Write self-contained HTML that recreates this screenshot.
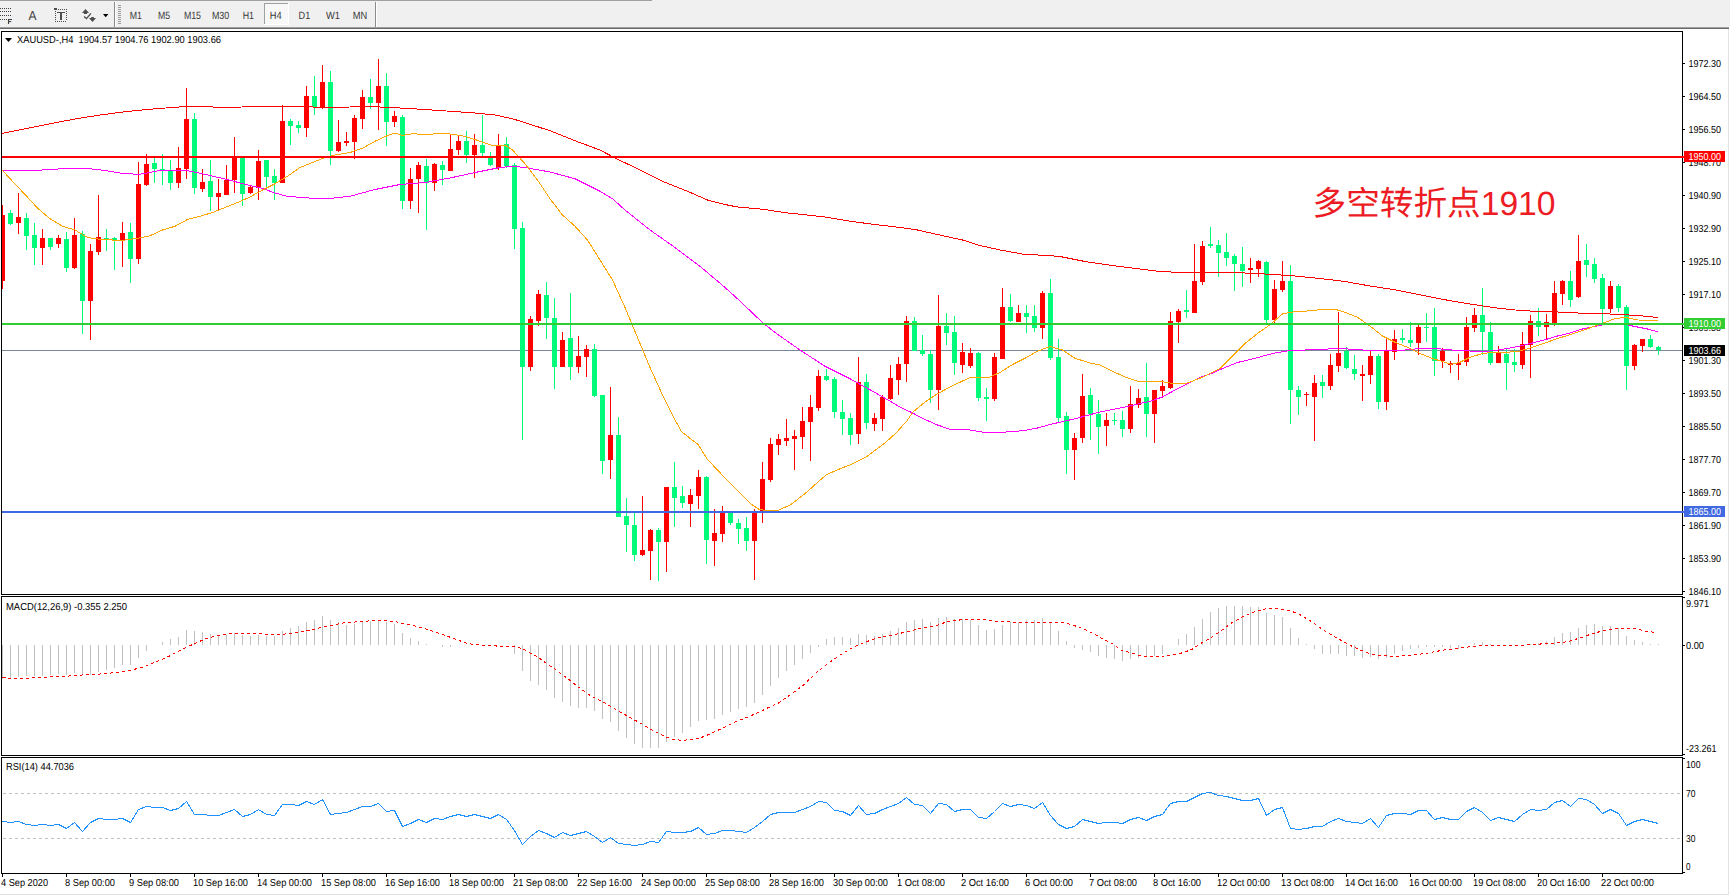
<!DOCTYPE html>
<html lang="zh"><head><meta charset="utf-8"><title>XAUUSD H4</title>
<style>html,body{margin:0;padding:0;background:#fff;overflow:hidden}svg{display:block}text{font-family:"Liberation Sans","Noto Sans CJK SC",sans-serif;white-space:pre;text-rendering:geometricPrecision}</style>
</head><body>
<svg width="1730" height="896" viewBox="0 0 1730 896" shape-rendering="crispEdges">
<rect x="0" y="0" width="1730" height="896" fill="#fff" />
<g id="toolbar">
<rect x="0" y="0" width="1730" height="27" fill="#f0f0f0" />
<rect x="0" y="0" width="652" height="1" fill="#a0a0a0" />
<rect x="0" y="27" width="1729" height="1" fill="#a0a0a0" />
<rect x="0" y="28" width="1729" height="1" fill="#696969" />
<rect x="1728" y="29" width="1" height="866" fill="#e3e3e3" />
<rect x="0" y="894" width="1729" height="1" fill="#e3e3e3" />
<rect x="0" y="8" width="1" height="1" fill="#404040" />
<rect x="2" y="8" width="1" height="1" fill="#404040" />
<rect x="4" y="8" width="1" height="1" fill="#404040" />
<rect x="6" y="8" width="1" height="1" fill="#404040" />
<rect x="8" y="8" width="1" height="1" fill="#404040" />
<rect x="10" y="8" width="1" height="1" fill="#404040" />
<rect x="0" y="11" width="1" height="1" fill="#404040" />
<rect x="2" y="11" width="1" height="1" fill="#404040" />
<rect x="4" y="11" width="1" height="1" fill="#404040" />
<rect x="6" y="11" width="1" height="1" fill="#404040" />
<rect x="8" y="11" width="1" height="1" fill="#404040" />
<rect x="10" y="11" width="1" height="1" fill="#404040" />
<rect x="0" y="15" width="1" height="1" fill="#404040" />
<rect x="2" y="15" width="1" height="1" fill="#404040" />
<rect x="4" y="15" width="1" height="1" fill="#404040" />
<rect x="6" y="15" width="1" height="1" fill="#404040" />
<rect x="8" y="15" width="1" height="1" fill="#404040" />
<rect x="10" y="15" width="1" height="1" fill="#404040" />
<rect x="0" y="19" width="1" height="1" fill="#404040" />
<rect x="2" y="19" width="1" height="1" fill="#404040" />
<rect x="4" y="19" width="1" height="1" fill="#404040" />
<rect x="6" y="19" width="1" height="1" fill="#404040" />
<rect x="8" y="19" width="4" height="1" fill="#404040" />
<rect x="8" y="19" width="1" height="5" fill="#404040" />
<rect x="8" y="21" width="3" height="1" fill="#404040" />
<text x="7.6" y="24" font-size="7.2" fill="#404040" font-weight="bold" opacity="0.35">F</text>
<text x="28.6" y="20" font-size="13" fill="#404040" textLength="8" lengthAdjust="spacingAndGlyphs" >A</text>
<rect x="58" y="9" width="1" height="1" fill="#4d4d4d" />
<rect x="60" y="9" width="1" height="1" fill="#4d4d4d" />
<rect x="62" y="9" width="1" height="1" fill="#4d4d4d" />
<rect x="64" y="9" width="1" height="1" fill="#4d4d4d" />
<rect x="66" y="9" width="1" height="1" fill="#4d4d4d" />
<rect x="54" y="8" width="3" height="2" fill="#4d4d4d" />
<rect x="55" y="21" width="1" height="1" fill="#4d4d4d" />
<rect x="57" y="21" width="1" height="1" fill="#4d4d4d" />
<rect x="59" y="21" width="1" height="1" fill="#4d4d4d" />
<rect x="61" y="21" width="1" height="1" fill="#4d4d4d" />
<rect x="63" y="21" width="1" height="1" fill="#4d4d4d" />
<rect x="65" y="21" width="1" height="1" fill="#4d4d4d" />
<rect x="55" y="11" width="1" height="1" fill="#4d4d4d" />
<rect x="55" y="13" width="1" height="1" fill="#4d4d4d" />
<rect x="55" y="15" width="1" height="1" fill="#4d4d4d" />
<rect x="55" y="17" width="1" height="1" fill="#4d4d4d" />
<rect x="55" y="19" width="1" height="1" fill="#4d4d4d" />
<rect x="55" y="21" width="1" height="1" fill="#4d4d4d" />
<rect x="66" y="9" width="1" height="1" fill="#4d4d4d" />
<rect x="66" y="11" width="1" height="1" fill="#4d4d4d" />
<rect x="66" y="13" width="1" height="1" fill="#4d4d4d" />
<rect x="66" y="15" width="1" height="1" fill="#4d4d4d" />
<rect x="66" y="17" width="1" height="1" fill="#4d4d4d" />
<rect x="66" y="19" width="1" height="1" fill="#4d4d4d" />
<rect x="57" y="12" width="8" height="1" fill="#4d4d4d" />
<rect x="60" y="12" width="2" height="8" fill="#4d4d4d" />
<g shape-rendering="geometricPrecision" fill="#4d4d4d">
<path d="M82 13 L85.5 9 L89 13 L87 13 L87 14 L84 14 L84 13 Z"/>
<path d="M89 18 L91.2 18 L91.2 17 L93.8 17 L93.8 18 L96 18 L92.5 22 Z"/>
<path d="M84.1 16.4 L86.5 18.6 L90.9 13.3" fill="none" stroke="#4d4d4d" stroke-width="1.3"/>
<path d="M103 14 L108.4 14 L105.7 17.2 Z" fill="#000"/>
</g>
<rect x="114" y="2" width="1" height="25" fill="#8a8a8a" />
<rect x="115" y="2" width="1" height="25" fill="#fff" />
<rect x="118" y="5" width="3" height="1" fill="#9a9a9a" />
<rect x="118" y="7" width="3" height="1" fill="#9a9a9a" />
<rect x="118" y="9" width="3" height="1" fill="#9a9a9a" />
<rect x="118" y="11" width="3" height="1" fill="#9a9a9a" />
<rect x="118" y="13" width="3" height="1" fill="#9a9a9a" />
<rect x="118" y="15" width="3" height="1" fill="#9a9a9a" />
<rect x="118" y="17" width="3" height="1" fill="#9a9a9a" />
<rect x="118" y="19" width="3" height="1" fill="#9a9a9a" />
<rect x="118" y="21" width="3" height="1" fill="#9a9a9a" />
<rect x="118" y="23" width="3" height="1" fill="#9a9a9a" />
<rect x="264" y="3" width="25" height="22" fill="#f8f8f8" />
<rect x="264" y="3" width="25" height="1" fill="#a0a0a0" />
<rect x="264" y="3" width="1" height="22" fill="#a0a0a0" />
<rect x="264" y="24" width="25" height="1" fill="#fff" />
<rect x="288" y="3" width="1" height="22" fill="#fff" />
<text x="129.8" y="19" font-size="10.5" fill="#3a3a3a" textLength="12.2" lengthAdjust="spacingAndGlyphs" >M1</text>
<text x="157.9" y="19" font-size="10.5" fill="#3a3a3a" textLength="12.1" lengthAdjust="spacingAndGlyphs" >M5</text>
<text x="183.9" y="19" font-size="10.5" fill="#3a3a3a" textLength="17.1" lengthAdjust="spacingAndGlyphs" >M15</text>
<text x="211.9" y="19" font-size="10.5" fill="#3a3a3a" textLength="17.3" lengthAdjust="spacingAndGlyphs" >M30</text>
<text x="242.7" y="19" font-size="10.5" fill="#3a3a3a" textLength="11.3" lengthAdjust="spacingAndGlyphs" >H1</text>
<text x="269.8" y="19" font-size="10.5" fill="#3a3a3a" textLength="11.9" lengthAdjust="spacingAndGlyphs" >H4</text>
<text x="298.6" y="19" font-size="10.5" fill="#3a3a3a" textLength="11.7" lengthAdjust="spacingAndGlyphs" >D1</text>
<text x="326" y="19" font-size="10.5" fill="#3a3a3a" textLength="14" lengthAdjust="spacingAndGlyphs" >W1</text>
<text x="352.8" y="19" font-size="10.5" fill="#3a3a3a" textLength="14.5" lengthAdjust="spacingAndGlyphs" >MN</text>
<rect x="375" y="2" width="1" height="25" fill="#8a8a8a" />
<rect x="376" y="2" width="1" height="25" fill="#fff" />
</g>
<g id="main">
<rect x="2" y="350" width="1680" height="1" fill="#778899" />
<rect x="2" y="205.0" width="1" height="84.0" fill="#ff0000" />
<rect x="2" y="215.0" width="3" height="66.0" fill="#ff0000" />
<rect x="10" y="210.0" width="1" height="15.0" fill="#00fa7a" />
<rect x="8" y="213.0" width="5" height="11.0" fill="#00fa7a" />
<rect x="18" y="193.0" width="1" height="41.0" fill="#ff0000" />
<rect x="16" y="217.0" width="5" height="6.0" fill="#ff0000" />
<rect x="26" y="213.0" width="1" height="37.0" fill="#00fa7a" />
<rect x="24" y="218.0" width="5" height="18.0" fill="#00fa7a" />
<rect x="34" y="223.0" width="1" height="42.0" fill="#00fa7a" />
<rect x="32" y="235.0" width="5" height="13.0" fill="#00fa7a" />
<rect x="42" y="229.0" width="1" height="36.0" fill="#ff0000" />
<rect x="40" y="238.0" width="5" height="10.0" fill="#ff0000" />
<rect x="50" y="238.0" width="1" height="12.0" fill="#00fa7a" />
<rect x="48" y="238.0" width="5" height="9.0" fill="#00fa7a" />
<rect x="58" y="235.0" width="1" height="13.0" fill="#ff0000" />
<rect x="56" y="238.0" width="5" height="6.0" fill="#ff0000" />
<rect x="66" y="232.0" width="1" height="40.0" fill="#00fa7a" />
<rect x="64" y="239.0" width="5" height="29.0" fill="#00fa7a" />
<rect x="74" y="218.0" width="1" height="51.0" fill="#ff0000" />
<rect x="72" y="235.0" width="5" height="33.0" fill="#ff0000" />
<rect x="82" y="231.0" width="1" height="103.0" fill="#00fa7a" />
<rect x="80" y="234.0" width="5" height="67.0" fill="#00fa7a" />
<rect x="90" y="244.0" width="1" height="96.0" fill="#ff0000" />
<rect x="88" y="251.0" width="5" height="50.0" fill="#ff0000" />
<rect x="98" y="195.0" width="1" height="60.0" fill="#ff0000" />
<rect x="96" y="237.0" width="5" height="15.0" fill="#ff0000" />
<rect x="106" y="229.0" width="1" height="22.0" fill="#00fa7a" />
<rect x="104" y="238.0" width="5" height="2.0" fill="#00fa7a" />
<rect x="114" y="237.0" width="1" height="33.0" fill="#00fa7a" />
<rect x="112" y="238.0" width="5" height="2.0" fill="#00fa7a" />
<rect x="122" y="222.0" width="1" height="45.0" fill="#ff0000" />
<rect x="120" y="233.0" width="5" height="8.0" fill="#ff0000" />
<rect x="130" y="223.0" width="1" height="60.0" fill="#00fa7a" />
<rect x="128" y="232.0" width="5" height="27.0" fill="#00fa7a" />
<rect x="138" y="162.0" width="1" height="102.0" fill="#ff0000" />
<rect x="136" y="184.0" width="5" height="75.0" fill="#ff0000" />
<rect x="146" y="154.0" width="1" height="32.0" fill="#ff0000" />
<rect x="144" y="164.0" width="5" height="21.0" fill="#ff0000" />
<rect x="154" y="157.0" width="1" height="26.0" fill="#00fa7a" />
<rect x="152" y="163.0" width="5" height="6.0" fill="#00fa7a" />
<rect x="162" y="154.0" width="1" height="31.0" fill="#00fa7a" />
<rect x="160" y="169.0" width="5" height="2.0" fill="#00fa7a" />
<rect x="170" y="160.0" width="1" height="30.0" fill="#00fa7a" />
<rect x="168" y="171.0" width="5" height="12.0" fill="#00fa7a" />
<rect x="178" y="147.0" width="1" height="41.0" fill="#ff0000" />
<rect x="176" y="168.0" width="5" height="15.0" fill="#ff0000" />
<rect x="186" y="88.0" width="1" height="91.0" fill="#ff0000" />
<rect x="184" y="119.0" width="5" height="50.0" fill="#ff0000" />
<rect x="194" y="113.0" width="1" height="81.0" fill="#00fa7a" />
<rect x="192" y="119.0" width="5" height="69.0" fill="#00fa7a" />
<rect x="202" y="169.0" width="1" height="23.0" fill="#ff0000" />
<rect x="200" y="182.0" width="5" height="7.0" fill="#ff0000" />
<rect x="210" y="160.0" width="1" height="51.0" fill="#00fa7a" />
<rect x="208" y="181.0" width="5" height="16.0" fill="#00fa7a" />
<rect x="218" y="179.0" width="1" height="31.0" fill="#ff0000" />
<rect x="216" y="193.0" width="5" height="4.0" fill="#ff0000" />
<rect x="226" y="165.0" width="1" height="30.0" fill="#ff0000" />
<rect x="224" y="180.0" width="5" height="15.0" fill="#ff0000" />
<rect x="234" y="137.0" width="1" height="56.0" fill="#ff0000" />
<rect x="232" y="157.0" width="5" height="23.0" fill="#ff0000" />
<rect x="242" y="157.0" width="1" height="49.0" fill="#00fa7a" />
<rect x="240" y="158.0" width="5" height="36.0" fill="#00fa7a" />
<rect x="250" y="186.0" width="1" height="8.0" fill="#ff0000" />
<rect x="248" y="187.0" width="5" height="6.0" fill="#ff0000" />
<rect x="258" y="150.0" width="1" height="50.0" fill="#ff0000" />
<rect x="256" y="161.0" width="5" height="27.0" fill="#ff0000" />
<rect x="266" y="160.0" width="1" height="28.0" fill="#00fa7a" />
<rect x="264" y="160.0" width="5" height="17.0" fill="#00fa7a" />
<rect x="274" y="169.0" width="1" height="31.0" fill="#00fa7a" />
<rect x="272" y="176.0" width="5" height="7.0" fill="#00fa7a" />
<rect x="282" y="105.0" width="1" height="78.0" fill="#ff0000" />
<rect x="280" y="121.0" width="5" height="62.0" fill="#ff0000" />
<rect x="290" y="119.0" width="1" height="26.0" fill="#00fa7a" />
<rect x="288" y="121.0" width="5" height="5.0" fill="#00fa7a" />
<rect x="298" y="121.0" width="1" height="12.0" fill="#00fa7a" />
<rect x="296" y="125.0" width="5" height="3.0" fill="#00fa7a" />
<rect x="306" y="86.0" width="1" height="51.0" fill="#ff0000" />
<rect x="304" y="96.0" width="5" height="32.0" fill="#ff0000" />
<rect x="314" y="76.0" width="1" height="39.0" fill="#00fa7a" />
<rect x="312" y="96.0" width="5" height="11.0" fill="#00fa7a" />
<rect x="322" y="65.0" width="1" height="44.0" fill="#ff0000" />
<rect x="320" y="82.0" width="5" height="26.0" fill="#ff0000" />
<rect x="330" y="71.0" width="1" height="94.0" fill="#00fa7a" />
<rect x="328" y="82.0" width="5" height="69.0" fill="#00fa7a" />
<rect x="338" y="120.0" width="1" height="32.0" fill="#ff0000" />
<rect x="336" y="142.0" width="5" height="9.0" fill="#ff0000" />
<rect x="346" y="132.0" width="1" height="14.0" fill="#ff0000" />
<rect x="344" y="141.0" width="5" height="2.0" fill="#ff0000" />
<rect x="354" y="115.0" width="1" height="44.0" fill="#ff0000" />
<rect x="352" y="118.0" width="5" height="24.0" fill="#ff0000" />
<rect x="362" y="90.0" width="1" height="39.0" fill="#ff0000" />
<rect x="360" y="97.0" width="5" height="22.0" fill="#ff0000" />
<rect x="370" y="79.0" width="1" height="30.0" fill="#00fa7a" />
<rect x="368" y="97.0" width="5" height="6.0" fill="#00fa7a" />
<rect x="378" y="59.0" width="1" height="71.0" fill="#ff0000" />
<rect x="376" y="86.0" width="5" height="17.0" fill="#ff0000" />
<rect x="386" y="73.0" width="1" height="73.0" fill="#00fa7a" />
<rect x="384" y="86.0" width="5" height="36.0" fill="#00fa7a" />
<rect x="394" y="111.0" width="1" height="16.0" fill="#ff0000" />
<rect x="392" y="116.0" width="5" height="6.0" fill="#ff0000" />
<rect x="402" y="115.0" width="1" height="94.0" fill="#00fa7a" />
<rect x="400" y="117.0" width="5" height="84.0" fill="#00fa7a" />
<rect x="410" y="168.0" width="1" height="41.0" fill="#ff0000" />
<rect x="408" y="179.0" width="5" height="22.0" fill="#ff0000" />
<rect x="418" y="162.0" width="1" height="51.0" fill="#ff0000" />
<rect x="416" y="165.0" width="5" height="14.0" fill="#ff0000" />
<rect x="426" y="159.0" width="1" height="71.0" fill="#00fa7a" />
<rect x="424" y="166.0" width="5" height="17.0" fill="#00fa7a" />
<rect x="434" y="163.0" width="1" height="28.0" fill="#ff0000" />
<rect x="432" y="164.0" width="5" height="19.0" fill="#ff0000" />
<rect x="442" y="161.0" width="1" height="24.0" fill="#00fa7a" />
<rect x="440" y="165.0" width="5" height="5.0" fill="#00fa7a" />
<rect x="450" y="135.0" width="1" height="36.0" fill="#ff0000" />
<rect x="448" y="149.0" width="5" height="22.0" fill="#ff0000" />
<rect x="458" y="136.0" width="1" height="19.0" fill="#ff0000" />
<rect x="456" y="141.0" width="5" height="9.0" fill="#ff0000" />
<rect x="466" y="131.0" width="1" height="32.0" fill="#00fa7a" />
<rect x="464" y="141.0" width="5" height="14.0" fill="#00fa7a" />
<rect x="474" y="134.0" width="1" height="44.0" fill="#ff0000" />
<rect x="472" y="145.0" width="5" height="10.0" fill="#ff0000" />
<rect x="482" y="115.0" width="1" height="41.0" fill="#00fa7a" />
<rect x="480" y="145.0" width="5" height="8.0" fill="#00fa7a" />
<rect x="490" y="152.0" width="1" height="14.0" fill="#00fa7a" />
<rect x="488" y="158.0" width="5" height="7.0" fill="#00fa7a" />
<rect x="498" y="134.0" width="1" height="36.0" fill="#ff0000" />
<rect x="496" y="145.0" width="5" height="23.0" fill="#ff0000" />
<rect x="506" y="137.0" width="1" height="31.0" fill="#00fa7a" />
<rect x="504" y="144.0" width="5" height="22.0" fill="#00fa7a" />
<rect x="514" y="163.0" width="1" height="86.0" fill="#00fa7a" />
<rect x="512" y="165.0" width="5" height="64.0" fill="#00fa7a" />
<rect x="522" y="222.0" width="1" height="218.0" fill="#00fa7a" />
<rect x="520" y="228.0" width="5" height="139.0" fill="#00fa7a" />
<rect x="530" y="316.0" width="1" height="55.0" fill="#ff0000" />
<rect x="528" y="319.0" width="5" height="48.0" fill="#ff0000" />
<rect x="538" y="290.0" width="1" height="36.0" fill="#ff0000" />
<rect x="536" y="294.0" width="5" height="27.0" fill="#ff0000" />
<rect x="546" y="282.0" width="1" height="57.0" fill="#00fa7a" />
<rect x="544" y="295.0" width="5" height="23.0" fill="#00fa7a" />
<rect x="554" y="298.0" width="1" height="91.0" fill="#00fa7a" />
<rect x="552" y="318.0" width="5" height="49.0" fill="#00fa7a" />
<rect x="562" y="332.0" width="1" height="35.0" fill="#ff0000" />
<rect x="560" y="340.0" width="5" height="27.0" fill="#ff0000" />
<rect x="570" y="293.0" width="1" height="87.0" fill="#00fa7a" />
<rect x="568" y="338.0" width="5" height="29.0" fill="#00fa7a" />
<rect x="578" y="336.0" width="1" height="37.0" fill="#ff0000" />
<rect x="576" y="356.0" width="5" height="11.0" fill="#ff0000" />
<rect x="586" y="345.0" width="1" height="32.0" fill="#ff0000" />
<rect x="584" y="349.0" width="5" height="8.0" fill="#ff0000" />
<rect x="594" y="344.0" width="1" height="53.0" fill="#00fa7a" />
<rect x="592" y="349.0" width="5" height="47.0" fill="#00fa7a" />
<rect x="602" y="395.0" width="1" height="79.0" fill="#00fa7a" />
<rect x="600" y="395.0" width="5" height="66.0" fill="#00fa7a" />
<rect x="610" y="387.0" width="1" height="92.0" fill="#ff0000" />
<rect x="608" y="435.0" width="5" height="25.0" fill="#ff0000" />
<rect x="618" y="417.0" width="1" height="100.0" fill="#00fa7a" />
<rect x="616" y="435.0" width="5" height="82.0" fill="#00fa7a" />
<rect x="626" y="498.0" width="1" height="54.0" fill="#00fa7a" />
<rect x="624" y="516.0" width="5" height="9.0" fill="#00fa7a" />
<rect x="634" y="513.0" width="1" height="48.0" fill="#00fa7a" />
<rect x="632" y="525.0" width="5" height="30.0" fill="#00fa7a" />
<rect x="642" y="496.0" width="1" height="60.0" fill="#ff0000" />
<rect x="640" y="550.0" width="5" height="5.0" fill="#ff0000" />
<rect x="650" y="529.0" width="1" height="51.0" fill="#ff0000" />
<rect x="648" y="530.0" width="5" height="21.0" fill="#ff0000" />
<rect x="658" y="528.0" width="1" height="53.0" fill="#00fa7a" />
<rect x="656" y="530.0" width="5" height="12.0" fill="#00fa7a" />
<rect x="666" y="487.0" width="1" height="85.0" fill="#ff0000" />
<rect x="664" y="487.0" width="5" height="55.0" fill="#ff0000" />
<rect x="674" y="462.0" width="1" height="65.0" fill="#00fa7a" />
<rect x="672" y="487.0" width="5" height="11.0" fill="#00fa7a" />
<rect x="682" y="486.0" width="1" height="22.0" fill="#00fa7a" />
<rect x="680" y="496.0" width="5" height="7.0" fill="#00fa7a" />
<rect x="690" y="489.0" width="1" height="38.0" fill="#ff0000" />
<rect x="688" y="495.0" width="5" height="9.0" fill="#ff0000" />
<rect x="698" y="470.0" width="1" height="39.0" fill="#ff0000" />
<rect x="696" y="477.0" width="5" height="19.0" fill="#ff0000" />
<rect x="706" y="476.0" width="1" height="88.0" fill="#00fa7a" />
<rect x="704" y="477.0" width="5" height="63.0" fill="#00fa7a" />
<rect x="714" y="509.0" width="1" height="57.0" fill="#ff0000" />
<rect x="712" y="533.0" width="5" height="8.0" fill="#ff0000" />
<rect x="722" y="506.0" width="1" height="36.0" fill="#ff0000" />
<rect x="720" y="512.0" width="5" height="22.0" fill="#ff0000" />
<rect x="730" y="512.0" width="1" height="13.0" fill="#00fa7a" />
<rect x="728" y="513.0" width="5" height="10.0" fill="#00fa7a" />
<rect x="738" y="519.0" width="1" height="25.0" fill="#00fa7a" />
<rect x="736" y="523.0" width="5" height="6.0" fill="#00fa7a" />
<rect x="746" y="517.0" width="1" height="34.0" fill="#00fa7a" />
<rect x="744" y="528.0" width="5" height="13.0" fill="#00fa7a" />
<rect x="754" y="509.0" width="1" height="71.0" fill="#ff0000" />
<rect x="752" y="512.0" width="5" height="29.0" fill="#ff0000" />
<rect x="762" y="462.0" width="1" height="61.0" fill="#ff0000" />
<rect x="760" y="479.0" width="5" height="32.0" fill="#ff0000" />
<rect x="770" y="438.0" width="1" height="44.0" fill="#ff0000" />
<rect x="768" y="444.0" width="5" height="36.0" fill="#ff0000" />
<rect x="778" y="434.0" width="1" height="21.0" fill="#ff0000" />
<rect x="776" y="439.0" width="5" height="6.0" fill="#ff0000" />
<rect x="786" y="419.0" width="1" height="27.0" fill="#ff0000" />
<rect x="784" y="438.0" width="5" height="3.0" fill="#ff0000" />
<rect x="794" y="430.0" width="1" height="40.0" fill="#ff0000" />
<rect x="792" y="436.0" width="5" height="3.0" fill="#ff0000" />
<rect x="802" y="407.0" width="1" height="42.0" fill="#ff0000" />
<rect x="800" y="421.0" width="5" height="16.0" fill="#ff0000" />
<rect x="810" y="395.0" width="1" height="66.0" fill="#ff0000" />
<rect x="808" y="407.0" width="5" height="15.0" fill="#ff0000" />
<rect x="818" y="370.0" width="1" height="41.0" fill="#ff0000" />
<rect x="816" y="376.0" width="5" height="32.0" fill="#ff0000" />
<rect x="826" y="369.0" width="1" height="12.0" fill="#00fa7a" />
<rect x="824" y="376.0" width="5" height="4.0" fill="#00fa7a" />
<rect x="834" y="377.0" width="1" height="41.0" fill="#00fa7a" />
<rect x="832" y="379.0" width="5" height="33.0" fill="#00fa7a" />
<rect x="842" y="400.0" width="1" height="35.0" fill="#00fa7a" />
<rect x="840" y="412.0" width="5" height="7.0" fill="#00fa7a" />
<rect x="850" y="413.0" width="1" height="32.0" fill="#00fa7a" />
<rect x="848" y="418.0" width="5" height="17.0" fill="#00fa7a" />
<rect x="858" y="357.0" width="1" height="87.0" fill="#ff0000" />
<rect x="856" y="382.0" width="5" height="52.0" fill="#ff0000" />
<rect x="866" y="374.0" width="1" height="55.0" fill="#00fa7a" />
<rect x="864" y="382.0" width="5" height="41.0" fill="#00fa7a" />
<rect x="874" y="413.0" width="1" height="18.0" fill="#ff0000" />
<rect x="872" y="418.0" width="5" height="6.0" fill="#ff0000" />
<rect x="882" y="395.0" width="1" height="36.0" fill="#ff0000" />
<rect x="880" y="397.0" width="5" height="22.0" fill="#ff0000" />
<rect x="890" y="365.0" width="1" height="35.0" fill="#ff0000" />
<rect x="888" y="378.0" width="5" height="21.0" fill="#ff0000" />
<rect x="898" y="357.0" width="1" height="38.0" fill="#ff0000" />
<rect x="896" y="364.0" width="5" height="16.0" fill="#ff0000" />
<rect x="906" y="316.0" width="1" height="66.0" fill="#ff0000" />
<rect x="904" y="321.0" width="5" height="43.0" fill="#ff0000" />
<rect x="914" y="317.0" width="1" height="34.0" fill="#00fa7a" />
<rect x="912" y="321.0" width="5" height="30.0" fill="#00fa7a" />
<rect x="922" y="335.0" width="1" height="21.0" fill="#00fa7a" />
<rect x="920" y="350.0" width="5" height="4.0" fill="#00fa7a" />
<rect x="930" y="350.0" width="1" height="53.0" fill="#00fa7a" />
<rect x="928" y="354.0" width="5" height="36.0" fill="#00fa7a" />
<rect x="938" y="295.0" width="1" height="115.0" fill="#ff0000" />
<rect x="936" y="326.0" width="5" height="64.0" fill="#ff0000" />
<rect x="946" y="313.0" width="1" height="32.0" fill="#00fa7a" />
<rect x="944" y="326.0" width="5" height="7.0" fill="#00fa7a" />
<rect x="954" y="316.0" width="1" height="59.0" fill="#00fa7a" />
<rect x="952" y="332.0" width="5" height="31.0" fill="#00fa7a" />
<rect x="962" y="343.0" width="1" height="30.0" fill="#ff0000" />
<rect x="960" y="352.0" width="5" height="13.0" fill="#ff0000" />
<rect x="970" y="348.0" width="1" height="20.0" fill="#ff0000" />
<rect x="968" y="353.0" width="5" height="13.0" fill="#ff0000" />
<rect x="978" y="352.0" width="1" height="49.0" fill="#00fa7a" />
<rect x="976" y="353.0" width="5" height="45.0" fill="#00fa7a" />
<rect x="986" y="388.0" width="1" height="33.0" fill="#00fa7a" />
<rect x="984" y="397.0" width="5" height="2.0" fill="#00fa7a" />
<rect x="994" y="353.0" width="1" height="48.0" fill="#ff0000" />
<rect x="992" y="357.0" width="5" height="42.0" fill="#ff0000" />
<rect x="1002" y="288.0" width="1" height="71.0" fill="#ff0000" />
<rect x="1000" y="307.0" width="5" height="52.0" fill="#ff0000" />
<rect x="1010" y="294.0" width="1" height="28.0" fill="#00fa7a" />
<rect x="1008" y="307.0" width="5" height="14.0" fill="#00fa7a" />
<rect x="1018" y="305.0" width="1" height="17.0" fill="#ff0000" />
<rect x="1016" y="313.0" width="5" height="9.0" fill="#ff0000" />
<rect x="1026" y="305.0" width="1" height="28.0" fill="#00fa7a" />
<rect x="1024" y="313.0" width="5" height="4.0" fill="#00fa7a" />
<rect x="1034" y="305.0" width="1" height="27.0" fill="#00fa7a" />
<rect x="1032" y="316.0" width="5" height="12.0" fill="#00fa7a" />
<rect x="1042" y="291.0" width="1" height="48.0" fill="#ff0000" />
<rect x="1040" y="293.0" width="5" height="35.0" fill="#ff0000" />
<rect x="1050" y="279.0" width="1" height="81.0" fill="#00fa7a" />
<rect x="1048" y="293.0" width="5" height="65.0" fill="#00fa7a" />
<rect x="1058" y="339.0" width="1" height="84.0" fill="#00fa7a" />
<rect x="1056" y="357.0" width="5" height="61.0" fill="#00fa7a" />
<rect x="1066" y="412.0" width="1" height="62.0" fill="#00fa7a" />
<rect x="1064" y="416.0" width="5" height="34.0" fill="#00fa7a" />
<rect x="1074" y="433.0" width="1" height="47.0" fill="#ff0000" />
<rect x="1072" y="438.0" width="5" height="12.0" fill="#ff0000" />
<rect x="1082" y="374.0" width="1" height="69.0" fill="#ff0000" />
<rect x="1080" y="396.0" width="5" height="42.0" fill="#ff0000" />
<rect x="1090" y="388.0" width="1" height="52.0" fill="#00fa7a" />
<rect x="1088" y="395.0" width="5" height="19.0" fill="#00fa7a" />
<rect x="1098" y="400.0" width="1" height="54.0" fill="#00fa7a" />
<rect x="1096" y="414.0" width="5" height="13.0" fill="#00fa7a" />
<rect x="1106" y="413.0" width="1" height="33.0" fill="#ff0000" />
<rect x="1104" y="420.0" width="5" height="6.0" fill="#ff0000" />
<rect x="1114" y="413.0" width="1" height="12.0" fill="#00fa7a" />
<rect x="1112" y="420.0" width="5" height="1.0" fill="#00fa7a" />
<rect x="1122" y="411.0" width="1" height="26.0" fill="#00fa7a" />
<rect x="1120" y="420.0" width="5" height="9.0" fill="#00fa7a" />
<rect x="1130" y="386.0" width="1" height="47.0" fill="#ff0000" />
<rect x="1128" y="404.0" width="5" height="25.0" fill="#ff0000" />
<rect x="1138" y="389.0" width="1" height="19.0" fill="#ff0000" />
<rect x="1136" y="398.0" width="5" height="7.0" fill="#ff0000" />
<rect x="1146" y="363.0" width="1" height="74.0" fill="#00fa7a" />
<rect x="1144" y="397.0" width="5" height="17.0" fill="#00fa7a" />
<rect x="1154" y="390.0" width="1" height="53.0" fill="#ff0000" />
<rect x="1152" y="390.0" width="5" height="24.0" fill="#ff0000" />
<rect x="1162" y="380.0" width="1" height="16.0" fill="#ff0000" />
<rect x="1160" y="386.0" width="5" height="5.0" fill="#ff0000" />
<rect x="1170" y="312.0" width="1" height="77.0" fill="#ff0000" />
<rect x="1168" y="321.0" width="5" height="67.0" fill="#ff0000" />
<rect x="1178" y="309.0" width="1" height="34.0" fill="#ff0000" />
<rect x="1176" y="311.0" width="5" height="11.0" fill="#ff0000" />
<rect x="1186" y="290.0" width="1" height="28.0" fill="#00fa7a" />
<rect x="1184" y="310.0" width="5" height="2.0" fill="#00fa7a" />
<rect x="1194" y="244.0" width="1" height="69.0" fill="#ff0000" />
<rect x="1192" y="281.0" width="5" height="32.0" fill="#ff0000" />
<rect x="1202" y="241.0" width="1" height="44.0" fill="#ff0000" />
<rect x="1200" y="246.0" width="5" height="36.0" fill="#ff0000" />
<rect x="1210" y="227.0" width="1" height="21.0" fill="#00fa7a" />
<rect x="1208" y="244.0" width="5" height="2.0" fill="#00fa7a" />
<rect x="1218" y="240.0" width="1" height="37.0" fill="#00fa7a" />
<rect x="1216" y="245.0" width="5" height="8.0" fill="#00fa7a" />
<rect x="1226" y="233.0" width="1" height="33.0" fill="#00fa7a" />
<rect x="1224" y="252.0" width="5" height="6.0" fill="#00fa7a" />
<rect x="1234" y="254.0" width="1" height="37.0" fill="#00fa7a" />
<rect x="1232" y="256.0" width="5" height="8.0" fill="#00fa7a" />
<rect x="1242" y="247.0" width="1" height="40.0" fill="#00fa7a" />
<rect x="1240" y="264.0" width="5" height="7.0" fill="#00fa7a" />
<rect x="1250" y="258.0" width="1" height="25.0" fill="#ff0000" />
<rect x="1248" y="268.0" width="5" height="2.0" fill="#ff0000" />
<rect x="1258" y="260.0" width="1" height="17.0" fill="#ff0000" />
<rect x="1256" y="261.0" width="5" height="8.0" fill="#ff0000" />
<rect x="1266" y="261.0" width="1" height="62.0" fill="#00fa7a" />
<rect x="1264" y="262.0" width="5" height="58.0" fill="#00fa7a" />
<rect x="1274" y="280.0" width="1" height="43.0" fill="#ff0000" />
<rect x="1272" y="289.0" width="5" height="31.0" fill="#ff0000" />
<rect x="1282" y="261.0" width="1" height="31.0" fill="#ff0000" />
<rect x="1280" y="281.0" width="5" height="9.0" fill="#ff0000" />
<rect x="1290" y="265.0" width="1" height="159.0" fill="#00fa7a" />
<rect x="1288" y="281.0" width="5" height="109.0" fill="#00fa7a" />
<rect x="1298" y="386.0" width="1" height="29.0" fill="#00fa7a" />
<rect x="1296" y="390.0" width="5" height="7.0" fill="#00fa7a" />
<rect x="1306" y="392.0" width="1" height="14.0" fill="#ff0000" />
<rect x="1304" y="394.0" width="5" height="1.0" fill="#ff0000" />
<rect x="1314" y="375.0" width="1" height="66.0" fill="#ff0000" />
<rect x="1312" y="383.0" width="5" height="14.0" fill="#ff0000" />
<rect x="1322" y="375.0" width="1" height="23.0" fill="#00fa7a" />
<rect x="1320" y="382.0" width="5" height="4.0" fill="#00fa7a" />
<rect x="1330" y="354.0" width="1" height="36.0" fill="#ff0000" />
<rect x="1328" y="365.0" width="5" height="21.0" fill="#ff0000" />
<rect x="1338" y="312.0" width="1" height="60.0" fill="#ff0000" />
<rect x="1336" y="353.0" width="5" height="13.0" fill="#ff0000" />
<rect x="1346" y="347.0" width="1" height="22.0" fill="#00fa7a" />
<rect x="1344" y="351.0" width="5" height="17.0" fill="#00fa7a" />
<rect x="1354" y="355.0" width="1" height="25.0" fill="#00fa7a" />
<rect x="1352" y="369.0" width="5" height="5.0" fill="#00fa7a" />
<rect x="1362" y="365.0" width="1" height="36.0" fill="#ff0000" />
<rect x="1360" y="374.0" width="5" height="2.0" fill="#ff0000" />
<rect x="1370" y="351.0" width="1" height="33.0" fill="#ff0000" />
<rect x="1368" y="356.0" width="5" height="19.0" fill="#ff0000" />
<rect x="1378" y="354.0" width="1" height="55.0" fill="#00fa7a" />
<rect x="1376" y="356.0" width="5" height="46.0" fill="#00fa7a" />
<rect x="1386" y="338.0" width="1" height="72.0" fill="#ff0000" />
<rect x="1384" y="351.0" width="5" height="51.0" fill="#ff0000" />
<rect x="1394" y="330.0" width="1" height="30.0" fill="#ff0000" />
<rect x="1392" y="339.0" width="5" height="13.0" fill="#ff0000" />
<rect x="1402" y="329.0" width="1" height="14.0" fill="#00fa7a" />
<rect x="1400" y="338.0" width="5" height="2.0" fill="#00fa7a" />
<rect x="1410" y="322.0" width="1" height="25.0" fill="#00fa7a" />
<rect x="1408" y="340.0" width="5" height="3.0" fill="#00fa7a" />
<rect x="1418" y="325.0" width="1" height="30.0" fill="#ff0000" />
<rect x="1416" y="327.0" width="5" height="16.0" fill="#ff0000" />
<rect x="1426" y="313.0" width="1" height="29.0" fill="#00fa7a" />
<rect x="1424" y="327.0" width="5" height="1.0" fill="#00fa7a" />
<rect x="1434" y="308.0" width="1" height="68.0" fill="#00fa7a" />
<rect x="1432" y="327.0" width="5" height="34.0" fill="#00fa7a" />
<rect x="1442" y="348.0" width="1" height="20.0" fill="#ff0000" />
<rect x="1440" y="351.0" width="5" height="10.0" fill="#ff0000" />
<rect x="1450" y="361.0" width="1" height="12.0" fill="#ff0000" />
<rect x="1448" y="363.0" width="5" height="2.0" fill="#ff0000" />
<rect x="1458" y="354.0" width="1" height="26.0" fill="#ff0000" />
<rect x="1456" y="363.0" width="5" height="2.0" fill="#ff0000" />
<rect x="1466" y="317.0" width="1" height="49.0" fill="#ff0000" />
<rect x="1464" y="327.0" width="5" height="35.0" fill="#ff0000" />
<rect x="1474" y="308.0" width="1" height="24.0" fill="#ff0000" />
<rect x="1472" y="315.0" width="5" height="13.0" fill="#ff0000" />
<rect x="1482" y="288.0" width="1" height="67.0" fill="#00fa7a" />
<rect x="1480" y="315.0" width="5" height="17.0" fill="#00fa7a" />
<rect x="1490" y="322.0" width="1" height="43.0" fill="#00fa7a" />
<rect x="1488" y="332.0" width="5" height="31.0" fill="#00fa7a" />
<rect x="1498" y="346.0" width="1" height="17.0" fill="#ff0000" />
<rect x="1496" y="353.0" width="5" height="10.0" fill="#ff0000" />
<rect x="1506" y="349.0" width="1" height="41.0" fill="#00fa7a" />
<rect x="1504" y="354.0" width="5" height="9.0" fill="#00fa7a" />
<rect x="1514" y="349.0" width="1" height="23.0" fill="#00fa7a" />
<rect x="1512" y="362.0" width="5" height="3.0" fill="#00fa7a" />
<rect x="1522" y="332.0" width="1" height="37.0" fill="#ff0000" />
<rect x="1520" y="344.0" width="5" height="21.0" fill="#ff0000" />
<rect x="1530" y="315.0" width="1" height="63.0" fill="#ff0000" />
<rect x="1528" y="321.0" width="5" height="24.0" fill="#ff0000" />
<rect x="1538" y="308.0" width="1" height="28.0" fill="#00fa7a" />
<rect x="1536" y="321.0" width="5" height="6.0" fill="#00fa7a" />
<rect x="1546" y="314.0" width="1" height="26.0" fill="#ff0000" />
<rect x="1544" y="322.0" width="5" height="5.0" fill="#ff0000" />
<rect x="1554" y="281.0" width="1" height="45.0" fill="#ff0000" />
<rect x="1552" y="293.0" width="5" height="31.0" fill="#ff0000" />
<rect x="1562" y="280.0" width="1" height="25.0" fill="#ff0000" />
<rect x="1560" y="281.0" width="5" height="13.0" fill="#ff0000" />
<rect x="1570" y="271.0" width="1" height="36.0" fill="#00fa7a" />
<rect x="1568" y="281.0" width="5" height="19.0" fill="#00fa7a" />
<rect x="1578" y="235.0" width="1" height="63.0" fill="#ff0000" />
<rect x="1576" y="261.0" width="5" height="36.0" fill="#ff0000" />
<rect x="1586" y="244.0" width="1" height="33.0" fill="#00fa7a" />
<rect x="1584" y="260.0" width="5" height="5.0" fill="#00fa7a" />
<rect x="1594" y="258.0" width="1" height="25.0" fill="#00fa7a" />
<rect x="1592" y="264.0" width="5" height="15.0" fill="#00fa7a" />
<rect x="1602" y="274.0" width="1" height="50.0" fill="#00fa7a" />
<rect x="1600" y="278.0" width="5" height="31.0" fill="#00fa7a" />
<rect x="1610" y="281.0" width="1" height="32.0" fill="#ff0000" />
<rect x="1608" y="286.0" width="5" height="23.0" fill="#ff0000" />
<rect x="1618" y="284.0" width="1" height="28.0" fill="#00fa7a" />
<rect x="1616" y="286.0" width="5" height="22.0" fill="#00fa7a" />
<rect x="1626" y="305.0" width="1" height="85.0" fill="#00fa7a" />
<rect x="1624" y="307.0" width="5" height="59.0" fill="#00fa7a" />
<rect x="1634" y="344.0" width="1" height="26.0" fill="#ff0000" />
<rect x="1632" y="345.0" width="5" height="21.0" fill="#ff0000" />
<rect x="1642" y="339.0" width="1" height="13.0" fill="#ff0000" />
<rect x="1640" y="339.0" width="5" height="7.0" fill="#ff0000" />
<rect x="1650" y="335.0" width="1" height="13.0" fill="#00fa7a" />
<rect x="1648" y="339.0" width="5" height="8.0" fill="#00fa7a" />
<rect x="1658" y="346.0" width="1" height="9.0" fill="#00fa7a" />
<rect x="1656" y="347.0" width="5" height="3.0" fill="#00fa7a" />
<polyline fill="none" stroke="#ff0000" stroke-width="1" shape-rendering="crispEdges" points="2,133.5 25,128.75 50,123.75 75,119 100,115 125,111.75 150,109.25 175,107.25 187,106.5 200,106.5 225,107.5 250,106.75 275,106.5 300,106.75 325,107.25 350,107 375,106.75 400,108 425,109.5 450,111.25 475,113 495,115 512.5,118.75 530,124.25 550,130.75 575,140.75 600,150 615,158 637.5,168.75 662.5,181.25 687.5,191.25 707.5,200 725,204.5 737.5,207 762.5,209.25 787.5,213 800,214.25 825,217 850,221.25 875,224.5 900,227.5 917.5,230 937.5,234.5 962.5,240 980,245.5 1000,250 1025,254.5 1050,255.5 1062.5,257 1087.5,262 1112.5,265.5 1137.5,268.75 1162.5,271.75 1187.5,272.5 1245,273 1270,274.25 1295,276 1320,278.5 1345,281.5 1370,286 1395,289.75 1420,294.75 1445,299.75 1470,304 1495,307.75 1520,310.5 1545,311.75 1570,312.25 1582.5,313.5 1604.6,313.7 1638,315.5 1658,317.5"/>
<polyline fill="none" stroke="#ff00ff" stroke-width="1" shape-rendering="crispEdges" points="2,170 25,170.25 37.5,170.25 62,168.75 87,168.5 105,170.5 125,173.75 140,174.25 160,170.5 185,170.25 200,173.25 225,179 250,185.5 262,188.25 275,193 287,196.25 312,198.25 332,198.25 350,196.25 375,189.5 400,184.5 425,182.5 450,178 475,172.5 500,167.5 512.5,166.25 525,167.5 550,172 575,178.75 600,191.25 612.5,198.75 625,210 650,230 675,247.5 700,266.25 725,287.5 737.5,298.75 762.5,322.5 775,332.5 800,350 825,366.25 850,378.75 875,392.5 900,407 912.5,413 925,419.5 937.5,425 950,429.25 970,430 987.5,433 1000,432.5 1025,430.5 1037.5,428 1050,424.5 1075,418.75 1100,412 1125,407 1150,401.25 1162.5,397 1175,390 1187.5,383.75 1200,377.5 1212.5,373 1225,367.5 1237.5,362.5 1250,359.5 1262.5,356.25 1275,353 1287.5,351 1310,349.75 1340,348.5 1370,350.5 1395,351 1420,348.5 1435,348.5 1457.5,350.5 1482.5,351.5 1495,350.5 1507.5,348.5 1520,346 1532.5,343 1545,339.75 1557.5,336 1570,333 1582.5,329 1604.6,324.5 1627,324.9 1638,327.1 1649,329.3 1658,332"/>
<polyline fill="none" stroke="#ffa500" stroke-width="1" shape-rendering="crispEdges" points="2,170 12.5,181.25 25,194.5 37.5,208 50,218.75 62.5,226.25 75,230 87.5,237.5 100,239.25 112.5,240 125,240 137.5,238.25 150,235.75 162.5,230 175,226.25 187.5,219.5 200,216.25 212.5,212.5 225,207.5 237.5,202.5 250,197 262.5,190 275,183.75 287.5,176.25 300,167.5 312.5,162.5 325,157.5 337.5,154.5 350,152.5 362.5,148.25 375,141.25 387.5,135.5 395,133 402.5,135.5 412.5,133.75 425,134.5 445,133.25 462.5,135.75 475,139.5 492.5,145.5 505,145 512.5,150 525,163.75 537.5,180 550,198.75 562.5,215 575,226.25 587.5,240 600,260 612.5,280 625,307.5 637.5,337.5 650,367.5 662.5,395 672.6,415.5 681.5,431.75 698,444.4 707,458.8 718,470.6 729,482 740.3,493.2 751.4,504.3 759,509.4 767,510.5 778,510.5 791.3,504.3 806.9,492 818,482 826.9,474.4 840,468.8 851.3,464.4 866.8,456.6 884.6,443.3 895.7,433.3 906.8,421 912.5,412.5 925,402 937.5,393.75 950,387 970,377.5 987.5,378 1000,372.5 1012.5,364.5 1025,358.25 1037.5,351.25 1050,346.5 1062.5,350 1075,358.25 1090,363 1100,365 1112.5,371.25 1125,377 1137.5,381.25 1150,382 1162.5,381.75 1175,383.75 1187.5,383 1202.5,377.25 1220,368.5 1232.5,356 1245,343.5 1257.5,333.5 1270,324.75 1282.5,314 1290,312.25 1307.5,311 1325,309.25 1335,309.25 1345,312.25 1357.5,317.25 1370,326 1382.5,336 1395,342.25 1407.5,347.25 1420,353.5 1432.5,358.5 1445,362.25 1451,364.25 1460,362.25 1470,357.25 1482.5,353.5 1495,352.25 1507.5,352.25 1520,351 1532.5,347.25 1545,343 1557.5,338.5 1570,334.75 1582.5,330.5 1604.6,322.6 1615.8,318.2 1627,317.7 1638,320 1658,320.4"/>
<rect x="2" y="156" width="1680" height="2" fill="#ff0000" />
<rect x="2" y="323" width="1680" height="2" fill="#32cd32" />
<rect x="2" y="511" width="1680" height="2" fill="#4169e1" />
</g>
<rect x="1" y="31" width="1682" height="1" fill="#000" />
<rect x="1" y="594" width="1682" height="1" fill="#000" />
<rect x="1" y="31" width="1" height="564" fill="#000" />
<rect x="1682" y="31" width="1" height="564" fill="#000" />
<rect x="1682" y="156" width="2" height="2" fill="#ff0000" />
<rect x="1682" y="323" width="2" height="2" fill="#32cd32" />
<rect x="1682" y="511" width="2" height="2" fill="#4169e1" />
<text x="1312.5" y="214.5" font-size="33.5" fill="#ed1c24" textLength="243" lengthAdjust="spacingAndGlyphs" font-weight="400" shape-rendering="geometricPrecision">多空转折点1910</text>
<path d="M5 38 L12 38 L8.5 42 Z" fill="#000" shape-rendering="geometricPrecision"/>
<text x="17" y="43" font-size="10.17" fill="#000" textLength="204" lengthAdjust="spacingAndGlyphs" >XAUUSD-,H4  1904.57 1904.76 1902.90 1903.66</text>
<rect x="1683" y="63" width="2" height="1" fill="#000" />
<text x="1688.5" y="67" font-size="10.17" fill="#000" textLength="32.5" lengthAdjust="spacingAndGlyphs" >1972.30</text>
<rect x="1683" y="96" width="2" height="1" fill="#000" />
<text x="1688.5" y="100" font-size="10.17" fill="#000" textLength="32.5" lengthAdjust="spacingAndGlyphs" >1964.50</text>
<rect x="1683" y="129" width="2" height="1" fill="#000" />
<text x="1688.5" y="133" font-size="10.17" fill="#000" textLength="32.5" lengthAdjust="spacingAndGlyphs" >1956.50</text>
<rect x="1683" y="162" width="2" height="1" fill="#000" />
<text x="1688.5" y="166" font-size="10.17" fill="#000" textLength="32.5" lengthAdjust="spacingAndGlyphs" >1948.70</text>
<rect x="1683" y="195" width="2" height="1" fill="#000" />
<text x="1688.5" y="199" font-size="10.17" fill="#000" textLength="32.5" lengthAdjust="spacingAndGlyphs" >1940.90</text>
<rect x="1683" y="228" width="2" height="1" fill="#000" />
<text x="1688.5" y="232" font-size="10.17" fill="#000" textLength="32.5" lengthAdjust="spacingAndGlyphs" >1932.90</text>
<rect x="1683" y="261" width="2" height="1" fill="#000" />
<text x="1688.5" y="265" font-size="10.17" fill="#000" textLength="32.5" lengthAdjust="spacingAndGlyphs" >1925.10</text>
<rect x="1683" y="294" width="2" height="1" fill="#000" />
<text x="1688.5" y="298" font-size="10.17" fill="#000" textLength="32.5" lengthAdjust="spacingAndGlyphs" >1917.10</text>
<rect x="1683" y="327" width="2" height="1" fill="#000" />
<text x="1688.5" y="331" font-size="10.17" fill="#000" textLength="32.5" lengthAdjust="spacingAndGlyphs" >1909.50</text>
<rect x="1683" y="360" width="2" height="1" fill="#000" />
<text x="1688.5" y="364" font-size="10.17" fill="#000" textLength="32.5" lengthAdjust="spacingAndGlyphs" >1901.30</text>
<rect x="1683" y="393" width="2" height="1" fill="#000" />
<text x="1688.5" y="397" font-size="10.17" fill="#000" textLength="32.5" lengthAdjust="spacingAndGlyphs" >1893.50</text>
<rect x="1683" y="426" width="2" height="1" fill="#000" />
<text x="1688.5" y="430" font-size="10.17" fill="#000" textLength="32.5" lengthAdjust="spacingAndGlyphs" >1885.50</text>
<rect x="1683" y="459" width="2" height="1" fill="#000" />
<text x="1688.5" y="463" font-size="10.17" fill="#000" textLength="32.5" lengthAdjust="spacingAndGlyphs" >1877.70</text>
<rect x="1683" y="492" width="2" height="1" fill="#000" />
<text x="1688.5" y="496" font-size="10.17" fill="#000" textLength="32.5" lengthAdjust="spacingAndGlyphs" >1869.70</text>
<rect x="1683" y="525" width="2" height="1" fill="#000" />
<text x="1688.5" y="529" font-size="10.17" fill="#000" textLength="32.5" lengthAdjust="spacingAndGlyphs" >1861.90</text>
<rect x="1683" y="558" width="2" height="1" fill="#000" />
<text x="1688.5" y="562" font-size="10.17" fill="#000" textLength="32.5" lengthAdjust="spacingAndGlyphs" >1853.90</text>
<rect x="1683" y="591" width="2" height="1" fill="#000" />
<text x="1688.5" y="595" font-size="10.17" fill="#000" textLength="32.5" lengthAdjust="spacingAndGlyphs" >1846.10</text>
<rect x="1684" y="151" width="41" height="11" fill="#ff0000" />
<text x="1688.5" y="160" font-size="10.17" fill="#fff" textLength="32.5" lengthAdjust="spacingAndGlyphs" >1950.00</text>
<rect x="1684" y="318" width="41" height="11" fill="#32cd32" />
<text x="1688.5" y="327" font-size="10.17" fill="#fff" textLength="32.5" lengthAdjust="spacingAndGlyphs" >1910.00</text>
<rect x="1684" y="345" width="41" height="11" fill="#000" />
<text x="1688.5" y="354" font-size="10.17" fill="#fff" textLength="32.5" lengthAdjust="spacingAndGlyphs" >1903.66</text>
<rect x="1684" y="506" width="41" height="11" fill="#4169e1" />
<text x="1688.5" y="515" font-size="10.17" fill="#fff" textLength="32.5" lengthAdjust="spacingAndGlyphs" >1865.00</text>
<g id="macd">
<rect x="2" y="645" width="1" height="34" fill="#c0c0c0" />
<rect x="10" y="645" width="1" height="34" fill="#c0c0c0" />
<rect x="18" y="645" width="1" height="32" fill="#c0c0c0" />
<rect x="26" y="645" width="1" height="31" fill="#c0c0c0" />
<rect x="34" y="645" width="1" height="31" fill="#c0c0c0" />
<rect x="42" y="645" width="1" height="31" fill="#c0c0c0" />
<rect x="50" y="645" width="1" height="30" fill="#c0c0c0" />
<rect x="58" y="645" width="1" height="29" fill="#c0c0c0" />
<rect x="66" y="645" width="1" height="30" fill="#c0c0c0" />
<rect x="74" y="645" width="1" height="28" fill="#c0c0c0" />
<rect x="82" y="645" width="1" height="29" fill="#c0c0c0" />
<rect x="90" y="645" width="1" height="30" fill="#c0c0c0" />
<rect x="98" y="645" width="1" height="27" fill="#c0c0c0" />
<rect x="106" y="645" width="1" height="25" fill="#c0c0c0" />
<rect x="114" y="645" width="1" height="23" fill="#c0c0c0" />
<rect x="122" y="645" width="1" height="20" fill="#c0c0c0" />
<rect x="130" y="645" width="1" height="20" fill="#c0c0c0" />
<rect x="138" y="645" width="1" height="13" fill="#c0c0c0" />
<rect x="146" y="645" width="1" height="6" fill="#c0c0c0" />
<rect x="162" y="642" width="1" height="3" fill="#c0c0c0" />
<rect x="170" y="639" width="1" height="6" fill="#c0c0c0" />
<rect x="178" y="637" width="1" height="8" fill="#c0c0c0" />
<rect x="186" y="630" width="1" height="15" fill="#c0c0c0" />
<rect x="194" y="631" width="1" height="14" fill="#c0c0c0" />
<rect x="202" y="632" width="1" height="13" fill="#c0c0c0" />
<rect x="210" y="634" width="1" height="11" fill="#c0c0c0" />
<rect x="218" y="636" width="1" height="9" fill="#c0c0c0" />
<rect x="226" y="635" width="1" height="10" fill="#c0c0c0" />
<rect x="234" y="633" width="1" height="12" fill="#c0c0c0" />
<rect x="242" y="635" width="1" height="10" fill="#c0c0c0" />
<rect x="250" y="636" width="1" height="9" fill="#c0c0c0" />
<rect x="258" y="635" width="1" height="10" fill="#c0c0c0" />
<rect x="266" y="636" width="1" height="9" fill="#c0c0c0" />
<rect x="274" y="636" width="1" height="9" fill="#c0c0c0" />
<rect x="282" y="631" width="1" height="14" fill="#c0c0c0" />
<rect x="290" y="628" width="1" height="17" fill="#c0c0c0" />
<rect x="298" y="626" width="1" height="19" fill="#c0c0c0" />
<rect x="306" y="622" width="1" height="23" fill="#c0c0c0" />
<rect x="314" y="620" width="1" height="25" fill="#c0c0c0" />
<rect x="322" y="616" width="1" height="29" fill="#c0c0c0" />
<rect x="330" y="620" width="1" height="25" fill="#c0c0c0" />
<rect x="338" y="622" width="1" height="23" fill="#c0c0c0" />
<rect x="346" y="625" width="1" height="20" fill="#c0c0c0" />
<rect x="354" y="624" width="1" height="21" fill="#c0c0c0" />
<rect x="362" y="622" width="1" height="23" fill="#c0c0c0" />
<rect x="370" y="621" width="1" height="24" fill="#c0c0c0" />
<rect x="378" y="620" width="1" height="25" fill="#c0c0c0" />
<rect x="386" y="622" width="1" height="23" fill="#c0c0c0" />
<rect x="394" y="624" width="1" height="21" fill="#c0c0c0" />
<rect x="402" y="633" width="1" height="12" fill="#c0c0c0" />
<rect x="410" y="638" width="1" height="7" fill="#c0c0c0" />
<rect x="418" y="641" width="1" height="4" fill="#c0c0c0" />
<rect x="426" y="644" width="1" height="1" fill="#c0c0c0" />
<rect x="442" y="645" width="1" height="2" fill="#c0c0c0" />
<rect x="450" y="645" width="1" height="2" fill="#c0c0c0" />
<rect x="514" y="645" width="1" height="9" fill="#c0c0c0" />
<rect x="522" y="645" width="1" height="26" fill="#c0c0c0" />
<rect x="530" y="645" width="1" height="36" fill="#c0c0c0" />
<rect x="538" y="645" width="1" height="40" fill="#c0c0c0" />
<rect x="546" y="645" width="1" height="45" fill="#c0c0c0" />
<rect x="554" y="645" width="1" height="53" fill="#c0c0c0" />
<rect x="562" y="645" width="1" height="57" fill="#c0c0c0" />
<rect x="570" y="645" width="1" height="61" fill="#c0c0c0" />
<rect x="578" y="645" width="1" height="63" fill="#c0c0c0" />
<rect x="586" y="645" width="1" height="63" fill="#c0c0c0" />
<rect x="594" y="645" width="1" height="66" fill="#c0c0c0" />
<rect x="602" y="645" width="1" height="74" fill="#c0c0c0" />
<rect x="610" y="645" width="1" height="77" fill="#c0c0c0" />
<rect x="618" y="645" width="1" height="86" fill="#c0c0c0" />
<rect x="626" y="645" width="1" height="93" fill="#c0c0c0" />
<rect x="634" y="645" width="1" height="99" fill="#c0c0c0" />
<rect x="642" y="645" width="1" height="103" fill="#c0c0c0" />
<rect x="650" y="645" width="1" height="103" fill="#c0c0c0" />
<rect x="658" y="645" width="1" height="103" fill="#c0c0c0" />
<rect x="666" y="645" width="1" height="97" fill="#c0c0c0" />
<rect x="674" y="645" width="1" height="92" fill="#c0c0c0" />
<rect x="682" y="645" width="1" height="88" fill="#c0c0c0" />
<rect x="690" y="645" width="1" height="82" fill="#c0c0c0" />
<rect x="698" y="645" width="1" height="76" fill="#c0c0c0" />
<rect x="706" y="645" width="1" height="75" fill="#c0c0c0" />
<rect x="714" y="645" width="1" height="74" fill="#c0c0c0" />
<rect x="722" y="645" width="1" height="70" fill="#c0c0c0" />
<rect x="730" y="645" width="1" height="67" fill="#c0c0c0" />
<rect x="738" y="645" width="1" height="64" fill="#c0c0c0" />
<rect x="746" y="645" width="1" height="62" fill="#c0c0c0" />
<rect x="754" y="645" width="1" height="58" fill="#c0c0c0" />
<rect x="762" y="645" width="1" height="50" fill="#c0c0c0" />
<rect x="770" y="645" width="1" height="41" fill="#c0c0c0" />
<rect x="778" y="645" width="1" height="33" fill="#c0c0c0" />
<rect x="786" y="645" width="1" height="26" fill="#c0c0c0" />
<rect x="794" y="645" width="1" height="20" fill="#c0c0c0" />
<rect x="802" y="645" width="1" height="14" fill="#c0c0c0" />
<rect x="810" y="645" width="1" height="8" fill="#c0c0c0" />
<rect x="818" y="645" width="1" height="2" fill="#c0c0c0" />
<rect x="826" y="639" width="1" height="6" fill="#c0c0c0" />
<rect x="834" y="637" width="1" height="8" fill="#c0c0c0" />
<rect x="842" y="637" width="1" height="8" fill="#c0c0c0" />
<rect x="850" y="638" width="1" height="7" fill="#c0c0c0" />
<rect x="858" y="634" width="1" height="11" fill="#c0c0c0" />
<rect x="866" y="635" width="1" height="10" fill="#c0c0c0" />
<rect x="874" y="636" width="1" height="9" fill="#c0c0c0" />
<rect x="882" y="634" width="1" height="11" fill="#c0c0c0" />
<rect x="890" y="631" width="1" height="14" fill="#c0c0c0" />
<rect x="898" y="628" width="1" height="17" fill="#c0c0c0" />
<rect x="906" y="622" width="1" height="23" fill="#c0c0c0" />
<rect x="914" y="620" width="1" height="25" fill="#c0c0c0" />
<rect x="922" y="619" width="1" height="26" fill="#c0c0c0" />
<rect x="930" y="622" width="1" height="23" fill="#c0c0c0" />
<rect x="938" y="618" width="1" height="27" fill="#c0c0c0" />
<rect x="946" y="617" width="1" height="28" fill="#c0c0c0" />
<rect x="954" y="619" width="1" height="26" fill="#c0c0c0" />
<rect x="962" y="619" width="1" height="26" fill="#c0c0c0" />
<rect x="970" y="620" width="1" height="25" fill="#c0c0c0" />
<rect x="978" y="625" width="1" height="20" fill="#c0c0c0" />
<rect x="986" y="630" width="1" height="15" fill="#c0c0c0" />
<rect x="994" y="629" width="1" height="16" fill="#c0c0c0" />
<rect x="1002" y="625" width="1" height="20" fill="#c0c0c0" />
<rect x="1010" y="622" width="1" height="23" fill="#c0c0c0" />
<rect x="1018" y="622" width="1" height="23" fill="#c0c0c0" />
<rect x="1026" y="620" width="1" height="25" fill="#c0c0c0" />
<rect x="1034" y="620" width="1" height="25" fill="#c0c0c0" />
<rect x="1042" y="618" width="1" height="27" fill="#c0c0c0" />
<rect x="1050" y="622" width="1" height="23" fill="#c0c0c0" />
<rect x="1058" y="631" width="1" height="14" fill="#c0c0c0" />
<rect x="1066" y="641" width="1" height="4" fill="#c0c0c0" />
<rect x="1074" y="645" width="1" height="3" fill="#c0c0c0" />
<rect x="1082" y="645" width="1" height="5" fill="#c0c0c0" />
<rect x="1090" y="645" width="1" height="7" fill="#c0c0c0" />
<rect x="1098" y="645" width="1" height="11" fill="#c0c0c0" />
<rect x="1106" y="645" width="1" height="13" fill="#c0c0c0" />
<rect x="1114" y="645" width="1" height="14" fill="#c0c0c0" />
<rect x="1122" y="645" width="1" height="16" fill="#c0c0c0" />
<rect x="1130" y="645" width="1" height="14" fill="#c0c0c0" />
<rect x="1138" y="645" width="1" height="13" fill="#c0c0c0" />
<rect x="1146" y="645" width="1" height="12" fill="#c0c0c0" />
<rect x="1154" y="645" width="1" height="11" fill="#c0c0c0" />
<rect x="1162" y="645" width="1" height="9" fill="#c0c0c0" />
<rect x="1178" y="639" width="1" height="6" fill="#c0c0c0" />
<rect x="1186" y="634" width="1" height="11" fill="#c0c0c0" />
<rect x="1194" y="627" width="1" height="18" fill="#c0c0c0" />
<rect x="1202" y="619" width="1" height="26" fill="#c0c0c0" />
<rect x="1210" y="612" width="1" height="33" fill="#c0c0c0" />
<rect x="1218" y="608" width="1" height="37" fill="#c0c0c0" />
<rect x="1226" y="606" width="1" height="39" fill="#c0c0c0" />
<rect x="1234" y="606" width="1" height="39" fill="#c0c0c0" />
<rect x="1242" y="606" width="1" height="39" fill="#c0c0c0" />
<rect x="1250" y="607" width="1" height="38" fill="#c0c0c0" />
<rect x="1258" y="607" width="1" height="38" fill="#c0c0c0" />
<rect x="1266" y="613" width="1" height="32" fill="#c0c0c0" />
<rect x="1274" y="615" width="1" height="30" fill="#c0c0c0" />
<rect x="1282" y="617" width="1" height="28" fill="#c0c0c0" />
<rect x="1290" y="628" width="1" height="17" fill="#c0c0c0" />
<rect x="1298" y="638" width="1" height="7" fill="#c0c0c0" />
<rect x="1306" y="644" width="1" height="1" fill="#c0c0c0" />
<rect x="1314" y="645" width="1" height="4" fill="#c0c0c0" />
<rect x="1322" y="645" width="1" height="9" fill="#c0c0c0" />
<rect x="1330" y="645" width="1" height="9" fill="#c0c0c0" />
<rect x="1338" y="645" width="1" height="9" fill="#c0c0c0" />
<rect x="1346" y="645" width="1" height="11" fill="#c0c0c0" />
<rect x="1354" y="645" width="1" height="11" fill="#c0c0c0" />
<rect x="1362" y="645" width="1" height="13" fill="#c0c0c0" />
<rect x="1370" y="645" width="1" height="12" fill="#c0c0c0" />
<rect x="1378" y="645" width="1" height="14" fill="#c0c0c0" />
<rect x="1386" y="645" width="1" height="13" fill="#c0c0c0" />
<rect x="1394" y="645" width="1" height="9" fill="#c0c0c0" />
<rect x="1402" y="645" width="1" height="6" fill="#c0c0c0" />
<rect x="1410" y="645" width="1" height="4" fill="#c0c0c0" />
<rect x="1418" y="645" width="1" height="3" fill="#c0c0c0" />
<rect x="1426" y="645" width="1" height="2" fill="#c0c0c0" />
<rect x="1434" y="645" width="1" height="2" fill="#c0c0c0" />
<rect x="1442" y="645" width="1" height="2" fill="#c0c0c0" />
<rect x="1450" y="645" width="1" height="3" fill="#c0c0c0" />
<rect x="1458" y="645" width="1" height="4" fill="#c0c0c0" />
<rect x="1474" y="643" width="1" height="2" fill="#c0c0c0" />
<rect x="1482" y="642" width="1" height="3" fill="#c0c0c0" />
<rect x="1490" y="644" width="1" height="1" fill="#c0c0c0" />
<rect x="1530" y="644" width="1" height="1" fill="#c0c0c0" />
<rect x="1538" y="643" width="1" height="2" fill="#c0c0c0" />
<rect x="1546" y="641" width="1" height="4" fill="#c0c0c0" />
<rect x="1554" y="637" width="1" height="8" fill="#c0c0c0" />
<rect x="1562" y="633" width="1" height="12" fill="#c0c0c0" />
<rect x="1570" y="632" width="1" height="13" fill="#c0c0c0" />
<rect x="1578" y="628" width="1" height="17" fill="#c0c0c0" />
<rect x="1586" y="625" width="1" height="20" fill="#c0c0c0" />
<rect x="1594" y="624" width="1" height="21" fill="#c0c0c0" />
<rect x="1602" y="626" width="1" height="19" fill="#c0c0c0" />
<rect x="1610" y="626" width="1" height="19" fill="#c0c0c0" />
<rect x="1618" y="628" width="1" height="17" fill="#c0c0c0" />
<rect x="1626" y="636" width="1" height="9" fill="#c0c0c0" />
<rect x="1634" y="640" width="1" height="5" fill="#c0c0c0" />
<rect x="1642" y="642" width="1" height="3" fill="#c0c0c0" />
<rect x="1650" y="644" width="1" height="1" fill="#c0c0c0" />
<rect x="1658" y="644" width="1" height="1" fill="#c0c0c0" />
<polyline fill="none" stroke="#ff0000" stroke-width="1" stroke-dasharray="3 3" shape-rendering="crispEdges" points="2.5,677.6 17.5,679 32.5,678 50,677 65,676.4 75,675.4 100,674 115,672.6 130,670.4 145,666.6 155,662 165,658.4 175,653 185,648 195,643.4 205,639 215,636 225,634.2 235,633.4 250,633.4 265,634 275,634.7 285,634 295,632.7 305,631.2 315,629 325,626.7 335,624.7 345,622.5 355,622 365,621.2 375,620.5 385,620.7 395,621.5 405,624 415,626 428.5,629.7 441,634 453.5,638.4 466,643 473.4,644.4 491,645.7 503.4,646.4 516,646.7 523.4,649.2 530.9,653.4 538.3,657.2 545.8,663 555.8,669.7 565.8,677.2 578.3,687 590.8,696 603.3,702 615.8,709.6 628.2,716.6 640.7,723.3 653.2,730.8 665.7,737 673.2,739.6 683.2,740.3 698.1,738.8 710.6,733.8 723.1,727.8 735.6,721.6 748.1,717 760.6,711.4 773,705.4 778,703.4 790.5,694.6 803,685.4 815.5,673.4 828,663.4 840.5,654.7 852,648 862,643.4 872,639.7 882,636.7 894.4,634.7 907,631.7 919.4,628.5 932,626.5 939.4,624.7 947,621.5 962,619.7 982,619.5 994.3,621.2 1011.8,622 1026.8,623 1044.2,622.2 1061.7,622.5 1069.2,624 1081.7,628 1094.2,634 1106.7,641 1114.2,644.7 1121.6,650.4 1131.6,653 1141.6,656 1151.6,656.4 1161.6,657.2 1171.6,654.7 1181.6,653 1191.5,649.7 1201.5,643 1211.5,637.2 1221.5,630.5 1231.5,623 1241.5,617.2 1250.5,613.5 1258,610.5 1268,608.5 1278,608.5 1288,610.2 1298,613.5 1310.4,621 1323,629.7 1335.4,637.2 1348,644.2 1358,649.2 1368,653 1378,655.4 1393,656.4 1412.8,655.2 1427.8,653 1442.8,650.2 1457.7,648.4 1472.7,646.4 1487.7,645.4 1517.7,645.4 1532.6,644.4 1552.6,643.4 1567.6,641.7 1582.6,637.2 1592.6,633.5 1602.6,631 1615,628.7 1635,628.5 1645,631 1655,632.5"/>
</g>
<rect x="1" y="596" width="1682" height="1" fill="#000" />
<rect x="1" y="755" width="1682" height="1" fill="#000" />
<rect x="1" y="596" width="1" height="160" fill="#000" />
<rect x="1682" y="596" width="1" height="160" fill="#000" />
<text x="6" y="610" font-size="10.17" fill="#000" textLength="121" lengthAdjust="spacingAndGlyphs" >MACD(12,26,9) -0.355 2.250</text>
<text x="1686" y="607" font-size="10.17" fill="#000" textLength="23" lengthAdjust="spacingAndGlyphs" >9.971</text>
<rect x="1683" y="597" width="2" height="1" fill="#000" />
<rect x="1683" y="754" width="2" height="1" fill="#000" />
<rect x="1683" y="645" width="2" height="1" fill="#000" />
<text x="1686" y="649" font-size="10.17" fill="#000" textLength="18" lengthAdjust="spacingAndGlyphs" >0.00</text>
<text x="1686" y="752" font-size="10.17" fill="#000" textLength="30.5" lengthAdjust="spacingAndGlyphs" >-23.261</text>
<g id="rsi">
<line x1="3" y1="793.5" x2="1682" y2="793.5" stroke="#c0c0c0" stroke-width="1" stroke-dasharray="3 3"/>
<line x1="3" y1="838.5" x2="1682" y2="838.5" stroke="#c0c0c0" stroke-width="1" stroke-dasharray="3 3"/>
<polyline fill="none" stroke="#1e90ff" stroke-width="1" shape-rendering="crispEdges" points="2.5,821.5 10.5,822.5 18.5,821.5 26.5,824.5 34.5,825.5 42.5,824.5 50.5,825.5 58.5,824.5 66.5,828.5 74.5,822.5 82.5,831.5 90.5,822.5 98.5,818.5 106.5,819.5 114.5,819.5 122.5,818.5 130.5,822.5 138.5,809.5 146.5,806.5 154.5,807.5 162.5,807.5 170.5,810.5 178.5,808.5 186.5,801.5 194.5,814.5 202.5,814.5 210.5,815.5 218.5,815.5 226.5,812.5 234.5,809.5 242.5,816.5 250.5,814.5 258.5,809.5 266.5,814.5 274.5,815.5 282.5,804.5 290.5,804.5 298.5,805.5 306.5,801.5 314.5,804.5 322.5,799.5 330.5,814.5 338.5,813.5 346.5,812.5 354.5,809.5 362.5,806.5 370.5,806.5 378.5,803.5 386.5,811.5 394.5,810.5 402.5,826.5 410.5,823.5 418.5,819.5 426.5,822.5 434.5,818.5 442.5,819.5 450.5,816.5 458.5,814.5 466.5,816.5 474.5,814.5 482.5,816.5 490.5,818.5 498.5,814.5 506.5,819.5 514.5,830.5 522.5,844.5 530.5,836.5 538.5,830.5 546.5,833.5 554.5,837.5 562.5,832.5 570.5,835.5 578.5,833.5 586.5,831.5 594.5,836.5 602.5,842.5 610.5,837.5 618.5,843.5 626.5,844.5 634.5,845.5 642.5,844.5 650.5,841.5 658.5,842.5 666.5,831.5 674.5,832.5 682.5,832.5 690.5,831.5 698.5,827.5 706.5,834.5 714.5,833.5 722.5,830.5 730.5,830.5 738.5,831.5 746.5,832.5 754.5,827.5 762.5,821.5 770.5,814.5 778.5,812.5 786.5,812.5 794.5,812.5 802.5,809.5 810.5,806.5 818.5,801.5 826.5,802.5 834.5,810.5 842.5,811.5 850.5,815.5 858.5,805.5 866.5,814.5 874.5,813.5 882.5,809.5 890.5,806.5 898.5,803.5 906.5,797.5 914.5,804.5 922.5,805.5 930.5,813.5 938.5,803.5 946.5,804.5 954.5,811.5 962.5,809.5 970.5,809.5 978.5,817.5 986.5,818.5 994.5,811.5 1002.5,803.5 1010.5,806.5 1018.5,804.5 1026.5,805.5 1034.5,808.5 1042.5,802.5 1050.5,815.5 1058.5,824.5 1066.5,828.5 1074.5,826.5 1082.5,819.5 1090.5,821.5 1098.5,823.5 1106.5,822.5 1114.5,822.5 1122.5,823.5 1130.5,819.5 1138.5,817.5 1146.5,820.5 1154.5,816.5 1162.5,814.5 1170.5,803.5 1178.5,801.5 1186.5,801.5 1194.5,797.5 1202.5,793.5 1210.5,792.5 1218.5,795.5 1226.5,796.5 1234.5,798.5 1242.5,800.5 1250.5,800.5 1258.5,798.5 1266.5,815.5 1274.5,809.5 1282.5,807.5 1290.5,828.5 1298.5,829.5 1306.5,828.5 1314.5,826.5 1322.5,826.5 1330.5,821.5 1338.5,818.5 1346.5,821.5 1354.5,822.5 1362.5,823.5 1370.5,818.5 1378.5,827.5 1386.5,815.5 1394.5,813.5 1402.5,813.5 1410.5,814.5 1418.5,810.5 1426.5,810.5 1434.5,819.5 1442.5,817.5 1450.5,819.5 1458.5,819.5 1466.5,811.5 1474.5,807.5 1482.5,812.5 1490.5,820.5 1498.5,817.5 1506.5,819.5 1514.5,821.5 1522.5,814.5 1530.5,809.5 1538.5,810.5 1546.5,809.5 1554.5,802.5 1562.5,800.5 1570.5,806.5 1578.5,798.5 1586.5,799.5 1594.5,804.5 1602.5,813.5 1610.5,809.5 1618.5,813.5 1626.5,825.5 1634.5,821.5 1642.5,819.5 1650.5,821.5 1658.5,823.5"/>
</g>
<rect x="1" y="757" width="1682" height="1" fill="#000" />
<rect x="1" y="873" width="1682" height="1" fill="#000" />
<rect x="1" y="757" width="1" height="117" fill="#000" />
<rect x="1682" y="757" width="1" height="117" fill="#000" />
<text x="6" y="770" font-size="10.17" fill="#000" textLength="68" lengthAdjust="spacingAndGlyphs" >RSI(14) 44.7036</text>
<text x="1686" y="768" font-size="10.17" fill="#000" textLength="14.5" lengthAdjust="spacingAndGlyphs" >100</text>
<text x="1686" y="797" font-size="10.17" fill="#000" textLength="9.5" lengthAdjust="spacingAndGlyphs" >70</text>
<text x="1686" y="842" font-size="10.17" fill="#000" textLength="9.5" lengthAdjust="spacingAndGlyphs" >30</text>
<text x="1686" y="870" font-size="10.17" fill="#000" textLength="4.5" lengthAdjust="spacingAndGlyphs" >0</text>
<rect x="1683" y="758" width="2" height="1" fill="#000" />
<rect x="1683" y="872" width="2" height="1" fill="#000" />
<rect x="2" y="874" width="1" height="3" fill="#000" />
<text x="1" y="886" font-size="10.17" fill="#000" textLength="47" lengthAdjust="spacingAndGlyphs" >4 Sep 2020</text>
<rect x="66" y="874" width="1" height="3" fill="#000" />
<text x="65" y="886" font-size="10.17" fill="#000" textLength="50" lengthAdjust="spacingAndGlyphs" >8 Sep 00:00</text>
<rect x="130" y="874" width="1" height="3" fill="#000" />
<text x="129" y="886" font-size="10.17" fill="#000" textLength="50" lengthAdjust="spacingAndGlyphs" >9 Sep 08:00</text>
<rect x="194" y="874" width="1" height="3" fill="#000" />
<text x="193" y="886" font-size="10.17" fill="#000" textLength="55" lengthAdjust="spacingAndGlyphs" >10 Sep 16:00</text>
<rect x="258" y="874" width="1" height="3" fill="#000" />
<text x="257" y="886" font-size="10.17" fill="#000" textLength="55" lengthAdjust="spacingAndGlyphs" >14 Sep 00:00</text>
<rect x="322" y="874" width="1" height="3" fill="#000" />
<text x="321" y="886" font-size="10.17" fill="#000" textLength="55" lengthAdjust="spacingAndGlyphs" >15 Sep 08:00</text>
<rect x="386" y="874" width="1" height="3" fill="#000" />
<text x="385" y="886" font-size="10.17" fill="#000" textLength="55" lengthAdjust="spacingAndGlyphs" >16 Sep 16:00</text>
<rect x="450" y="874" width="1" height="3" fill="#000" />
<text x="449" y="886" font-size="10.17" fill="#000" textLength="55" lengthAdjust="spacingAndGlyphs" >18 Sep 00:00</text>
<rect x="514" y="874" width="1" height="3" fill="#000" />
<text x="513" y="886" font-size="10.17" fill="#000" textLength="55" lengthAdjust="spacingAndGlyphs" >21 Sep 08:00</text>
<rect x="578" y="874" width="1" height="3" fill="#000" />
<text x="577" y="886" font-size="10.17" fill="#000" textLength="55" lengthAdjust="spacingAndGlyphs" >22 Sep 16:00</text>
<rect x="642" y="874" width="1" height="3" fill="#000" />
<text x="641" y="886" font-size="10.17" fill="#000" textLength="55" lengthAdjust="spacingAndGlyphs" >24 Sep 00:00</text>
<rect x="706" y="874" width="1" height="3" fill="#000" />
<text x="705" y="886" font-size="10.17" fill="#000" textLength="55" lengthAdjust="spacingAndGlyphs" >25 Sep 08:00</text>
<rect x="770" y="874" width="1" height="3" fill="#000" />
<text x="769" y="886" font-size="10.17" fill="#000" textLength="55" lengthAdjust="spacingAndGlyphs" >28 Sep 16:00</text>
<rect x="834" y="874" width="1" height="3" fill="#000" />
<text x="833" y="886" font-size="10.17" fill="#000" textLength="55" lengthAdjust="spacingAndGlyphs" >30 Sep 00:00</text>
<rect x="898" y="874" width="1" height="3" fill="#000" />
<text x="897" y="886" font-size="10.17" fill="#000" textLength="48" lengthAdjust="spacingAndGlyphs" >1 Oct 08:00</text>
<rect x="962" y="874" width="1" height="3" fill="#000" />
<text x="961" y="886" font-size="10.17" fill="#000" textLength="48" lengthAdjust="spacingAndGlyphs" >2 Oct 16:00</text>
<rect x="1026" y="874" width="1" height="3" fill="#000" />
<text x="1025" y="886" font-size="10.17" fill="#000" textLength="48" lengthAdjust="spacingAndGlyphs" >6 Oct 00:00</text>
<rect x="1090" y="874" width="1" height="3" fill="#000" />
<text x="1089" y="886" font-size="10.17" fill="#000" textLength="48" lengthAdjust="spacingAndGlyphs" >7 Oct 08:00</text>
<rect x="1154" y="874" width="1" height="3" fill="#000" />
<text x="1153" y="886" font-size="10.17" fill="#000" textLength="48" lengthAdjust="spacingAndGlyphs" >8 Oct 16:00</text>
<rect x="1218" y="874" width="1" height="3" fill="#000" />
<text x="1217" y="886" font-size="10.17" fill="#000" textLength="53" lengthAdjust="spacingAndGlyphs" >12 Oct 00:00</text>
<rect x="1282" y="874" width="1" height="3" fill="#000" />
<text x="1281" y="886" font-size="10.17" fill="#000" textLength="53" lengthAdjust="spacingAndGlyphs" >13 Oct 08:00</text>
<rect x="1346" y="874" width="1" height="3" fill="#000" />
<text x="1345" y="886" font-size="10.17" fill="#000" textLength="53" lengthAdjust="spacingAndGlyphs" >14 Oct 16:00</text>
<rect x="1410" y="874" width="1" height="3" fill="#000" />
<text x="1409" y="886" font-size="10.17" fill="#000" textLength="53" lengthAdjust="spacingAndGlyphs" >16 Oct 00:00</text>
<rect x="1474" y="874" width="1" height="3" fill="#000" />
<text x="1473" y="886" font-size="10.17" fill="#000" textLength="53" lengthAdjust="spacingAndGlyphs" >19 Oct 08:00</text>
<rect x="1538" y="874" width="1" height="3" fill="#000" />
<text x="1537" y="886" font-size="10.17" fill="#000" textLength="53" lengthAdjust="spacingAndGlyphs" >20 Oct 16:00</text>
<rect x="1602" y="874" width="1" height="3" fill="#000" />
<text x="1601" y="886" font-size="10.17" fill="#000" textLength="53" lengthAdjust="spacingAndGlyphs" >22 Oct 00:00</text>
</svg></body></html>
